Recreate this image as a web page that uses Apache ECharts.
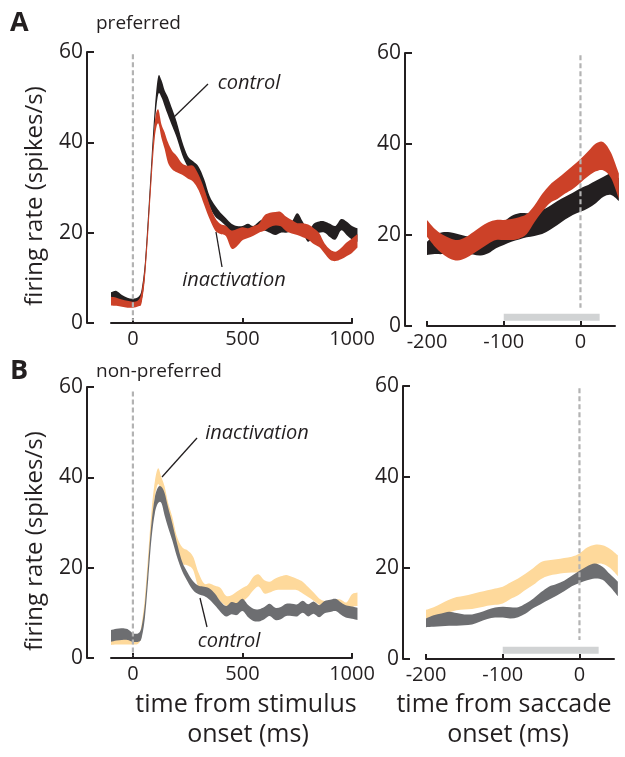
<!DOCTYPE html>
<html lang="en">
<head>
  <meta charset="UTF-8">
  <title>firing rate</title>
  <script src="https://cdn.jsdelivr.net/npm/echarts@6/dist/echarts.min.js"></script>
</head>
<body style="margin:0;background:#fff">
  <div id="main" style="width:625px;height:757px;"></div>
  <script type="text/javascript">
    // time bases (ms)
    var T_STIM = [-100, -75, -50, -25, 0, 25, 40, 55, 70, 85, 100, 115, 130, 145, 160, 180, 200,
      225, 250, 275, 300, 325, 350, 375, 400, 425, 450, 475, 500, 525, 550, 575, 600, 625, 650,
      675, 700, 725, 750, 775, 800, 825, 850, 875, 900, 925, 950, 975, 1000, 1025]
    var T_SACC = [-200, -190, -180, -170, -160, -150, -140, -130, -120, -110, -100, -90, -80,
      -70, -60, -50, -40, -30, -20, -10, 0, 10, 20, 30, 40, 50]

    // A, preferred, aligned on stimulus (upper / lower edge of band)
    var A_STIM_CTRL_HI = [6.8, 7.1, 6.2, 5.6, 5.4, 5.8, 7.5, 13.5, 24.5, 36.5, 47.5, 54.5, 53.8, 51.5, 50.0, 47.3, 44.5,
      40.2, 37.0, 35.8, 34.6, 31.9, 28.1, 26.0, 24.4, 23.2, 22.0, 21.5, 21.5, 22.0, 21.5, 22.5, 23.0, 22.5, 22.0,
      22.5, 22.5, 22.5, 24.3, 22.5, 20.5, 22.0, 22.5, 22.5, 22.0, 21.5, 23.0, 22.5, 21.5, 21.0]
    var A_STIM_CTRL_LO = [5.1, 5.3, 4.8, 4.4, 4.0, 4.4, 5.0, 10.5, 21.0, 33.0, 44.0, 50.5, 50.0, 48.0, 46.0, 43.5, 41.0,
      37.2, 34.6, 33.0, 31.5, 29.2, 25.8, 23.6, 22.6, 21.4, 19.5, 19.0, 19.5, 20.0, 20.0, 20.5, 20.5, 20.0, 19.5,
      20.0, 20.0, 20.5, 21.5, 20.0, 18.0, 19.5, 20.0, 20.0, 19.0, 18.5, 20.5, 19.5, 18.5, 18.0]
    var A_STIM_INACT_HI = [5.8, 5.6, 5.2, 4.9, 4.7, 5.1, 7.0, 13.0, 23.5, 35.0, 44.5, 47.3, 44.0, 42.2, 40.0, 38.0, 37.0,
      35.3, 34.8, 34.8, 32.8, 29.8, 26.2, 23.3, 21.9, 21.5, 20.5, 20.8, 21.2, 21.0, 21.5, 22.0, 23.8, 24.4, 24.6,
      24.6, 23.5, 22.8, 22.1, 22.1, 21.8, 21.0, 19.9, 17.6, 16.3, 15.8, 16.6, 17.8, 18.7, 19.7]
    var A_STIM_INACT_LO = [3.9, 3.8, 3.6, 3.4, 3.4, 3.7, 4.5, 10.0, 20.0, 31.5, 41.0, 44.2, 41.0, 38.5, 35.5, 34.0, 33.4,
      32.8, 32.0, 31.3, 29.4, 26.2, 23.0, 20.5, 19.7, 19.2, 16.5, 17.0, 18.3, 18.8, 19.3, 20.0, 20.4, 21.2, 21.6,
      21.4, 20.3, 19.8, 19.5, 19.0, 18.5, 17.5, 16.8, 15.4, 14.0, 13.7, 14.1, 14.8, 15.5, 16.7]

    // A, preferred, aligned on saccade
    var A_SACC_CTRL_HI = [18.5, 20.0, 20.6, 20.6, 20.2, 19.8, 19.5, 19.6, 20.4, 21.5, 22.9, 24.2, 24.8,
      24.8, 24.8, 25.5, 26.4, 27.5, 28.4, 29.3, 30.3, 31.0, 31.9, 32.8, 33.5, 32.5]
    var A_SACC_CTRL_LO = [15.6, 15.8, 15.8, 16.0, 16.1, 16.1, 15.7, 15.5, 16.0, 17.1, 17.8, 18.5, 19.0,
      19.5, 19.8, 20.2, 21.1, 22.2, 23.4, 24.4, 25.1, 25.9, 27.0, 28.4, 28.8, 27.5]
    var A_SACC_INACT_HI = [23.3, 21.4, 20.1, 19.3, 18.9, 19.5, 20.6, 21.8, 22.8, 23.3, 23.3, 23.5, 23.9,
      24.6, 26.5, 29.0, 31.0, 32.4, 33.8, 35.2, 36.7, 38.4, 40.1, 40.4, 38.0, 33.5]
    var A_SACC_INACT_LO = [19.6, 17.5, 15.9, 14.8, 14.4, 14.9, 15.9, 17.0, 18.1, 18.9, 18.9, 18.9, 19.2,
      20.2, 22.8, 25.1, 27.0, 27.9, 29.1, 30.1, 31.5, 32.9, 34.0, 34.2, 32.5, 28.0]

    // B, non-preferred, aligned on stimulus
    var B_STIM_CTRL_HI = [6.2, 6.5, 6.6, 6.4, 5.5, 5.5, 7.0, 12.0, 21.0, 30.0, 35.5, 37.8, 37.9, 36.5, 33.5, 29.8, 25.7,
      21.3, 18.9, 17.0, 16.0, 15.8, 15.4, 14.2, 12.5, 11.5, 12.4, 12.2, 13.1, 11.8, 10.9, 10.8, 11.3, 12.0, 11.1,
      11.3, 12.0, 12.0, 11.9, 12.7, 11.9, 12.5, 11.7, 12.6, 12.9, 13.1, 12.3, 11.6, 11.4, 11.1]
    var B_STIM_CTRL_LO = [3.6, 3.9, 4.0, 4.0, 3.6, 3.6, 4.5, 9.0, 17.5, 26.5, 32.0, 34.3, 34.3, 31.5, 29.0, 26.0, 22.6,
      19.2, 16.9, 15.0, 14.1, 13.7, 12.9, 11.6, 10.2, 9.2, 9.7, 9.5, 10.4, 9.1, 8.2, 8.1, 8.6, 9.3, 8.4,
      8.6, 9.3, 9.3, 9.2, 10.0, 9.2, 9.8, 9.0, 9.9, 10.2, 10.4, 9.6, 8.9, 8.7, 8.4]
    var B_STIM_INACT_HI = [4.6, 4.5, 4.3, 4.2, 4.0, 4.3, 7.5, 13.5, 23.0, 32.5, 39.0, 42.0, 40.0, 37.9, 34.5, 31.2, 27.0,
      24.5, 23.8, 22.4, 18.8, 16.5, 16.5, 16.0, 15.5, 13.8, 13.9, 14.7, 15.5, 16.2, 18.0, 18.5, 17.2, 16.9, 17.6,
      18.1, 18.4, 18.0, 17.5, 16.9, 15.7, 14.5, 13.2, 12.6, 12.7, 13.0, 12.9, 12.3, 14.1, 14.5]
    var B_STIM_INACT_LO = [2.9, 3.0, 3.0, 3.0, 3.0, 3.2, 5.0, 10.5, 19.5, 29.0, 35.5, 38.5, 36.5, 34.5, 31.0, 27.5, 24.0,
      21.0, 20.5, 19.5, 15.5, 14.5, 14.0, 13.5, 12.5, 11.5, 11.0, 11.5, 12.5, 13.5, 15.0, 15.8, 14.3, 14.5, 15.0,
      15.1, 15.1, 15.1, 15.0, 14.3, 13.5, 12.7, 11.8, 11.0, 10.8, 11.0, 10.8, 10.5, 11.3, 11.5]

    // B, non-preferred, aligned on saccade
    var B_SACC_CTRL_HI = [8.9, 9.6, 10.0, 10.4, 10.1, 9.8, 9.8, 10.2, 10.8, 11.3, 11.5, 11.4, 11.4,
      12.2, 13.3, 14.7, 15.9, 16.5, 17.2, 18.3, 19.4, 20.4, 21.0, 20.3, 18.6, 17.0]
    var B_SACC_CTRL_LO = [7.0, 7.1, 7.2, 7.3, 7.3, 7.4, 7.6, 8.2, 8.8, 9.1, 9.1, 8.9, 9.2,
      10.0, 11.2, 12.1, 13.0, 13.9, 14.9, 16.0, 16.7, 17.3, 17.7, 17.4, 15.8, 13.8]
    var B_SACC_INACT_HI = [10.8, 11.4, 12.2, 13.0, 13.6, 13.9, 14.3, 14.7, 15.1, 15.5, 15.9, 16.8, 17.7,
      18.8, 20.0, 21.3, 21.7, 21.9, 22.2, 22.5, 23.2, 24.5, 25.1, 25.0, 24.2, 22.8]
    var B_SACC_INACT_LO = [8.2, 8.8, 9.5, 10.2, 10.7, 10.9, 11.0, 11.3, 11.7, 11.9, 12.2, 13.2, 14.0,
      15.2, 16.3, 17.6, 18.3, 18.6, 18.9, 19.0, 19.2, 20.1, 20.8, 20.9, 20.0, 18.2]

    // axes
    var STIM_TICKS = [0, 500, 1000]
    var SACC_TICKS = [-200, -100, 0]
    var RATE_TICKS = [0, 20, 40, 60]
    var SACC_WINDOW = [-100, 25]

    var FONT = '"Open Sans", sans-serif'
    var INK = '#231f20'
    var BLACK = '#231f20', RED = '#cc4128', ORANGE = '#fed99b', GRAY = '#6d6e71'

    var myChart = echarts.init(document.getElementById('main'))

    // catmull-rom through points -> bezier path commands
    function curve(p) {
      var s = ''
      for (var i = 0; i < p.length - 1; i++) {
        var p0 = p[i - 1] || p[i], p1 = p[i], p2 = p[i + 1], p3 = p[i + 2] || p2
        s += 'C' + (p1[0] + (p2[0] - p0[0]) / 6) + ',' + (p1[1] + (p2[1] - p0[1]) / 6) + ',' +
          (p2[0] - (p3[0] - p1[0]) / 6) + ',' + (p2[1] - (p3[1] - p1[1]) / 6) + ',' + p2[0] + ',' + p2[1]
      }
      return s
    }

    function band(idx, ts, lo, hi, color) {
      return {
        type: 'custom',
        xAxisIndex: idx,
        yAxisIndex: idx,
        clip: false,
        silent: true,
        data: ts.map(function (t, i) { return [t, lo[i], hi[i]] }),
        encode: { x: 0, y: [1, 2] },
        renderItem: function (params, api) {
          if (params.dataIndex !== 0) return null
          var up = [], dn = []
          for (var i = 0; i < ts.length; i++) {
            up.push(api.coord([ts[i], hi[i]]))
            dn.push(api.coord([ts[i], lo[i]]))
          }
          dn.reverse()
          var d = 'M' + up[0][0] + ',' + up[0][1] + curve(up) +
            'L' + dn[0][0] + ',' + dn[0][1] + curve(dn) + 'Z'
          return { type: 'path', shape: { pathData: d }, style: { fill: color } }
        }
      }
    }

    function dash(idx, top, bottom) {
      return {
        type: 'line', xAxisIndex: idx, yAxisIndex: idx, silent: true, z: 5,
        data: [[0, top], [0, bottom]], symbol: 'none',
        lineStyle: { color: '#b3b3b3', width: 2.2, type: [5, 3] }
      }
    }

    function winBar(idx) {
      return {
        type: 'line', xAxisIndex: idx, yAxisIndex: idx, silent: true, z: 4,
        data: [[SACC_WINDOW[0], 1.9], [SACC_WINDOW[1], 1.9]], symbol: 'none',
        lineStyle: { color: '#d1d3d4', width: 7, cap: 'butt' }
      }
    }

    function xAxisOf(idx, min, max, ticks) {
      return {
        type: 'value', gridIndex: idx, min: min, max: max,
        axisLine: { onZero: false, lineStyle: { color: INK, width: 2 } },
        axisTick: { inside: true, length: 5, customValues: ticks, lineStyle: { color: INK, width: 2 } },
        axisLabel: {
          customValues: ticks, fontSize: 20, color: INK, margin: 6, fontFamily: FONT,
          formatter: function (v) { return String(v) }
        },
        splitLine: { show: false }
      }
    }

    function yAxisOf(idx, off) {
      return {
        type: 'value', gridIndex: idx, min: 0, max: 60, offset: off,
        axisLine: { show: true, onZero: false, lineStyle: { color: INK, width: 2 } },
        axisTick: { show: true, inside: true, length: 7, customValues: RATE_TICKS, lineStyle: { color: INK, width: 2 } },
        axisLabel: { customValues: RATE_TICKS, fontSize: 21, color: INK, margin: 4, fontFamily: FONT },
        splitLine: { show: false }
      }
    }

    function txt(x, y, s, font, align, rot) {
      return {
        type: 'text', x: x, y: y, rotation: rot || 0,
        style: { text: s, font: font, fill: INK, align: align || 'center', verticalAlign: 'middle' }
      }
    }

    function lead(x1, y1, x2, y2) {
      return { type: 'line', shape: { x1: x1, y1: y1, x2: x2, y2: y2 }, style: { stroke: INK, lineWidth: 1.3 } }
    }

    var option = {
      animation: false,
      textStyle: { fontFamily: FONT },
      grid: [
        { left: 111, top: 52, width: 241, height: 271 },
        { left: 427, top: 53, width: 188, height: 273 },
        { left: 111, top: 387, width: 241, height: 271 },
        { left: 426, top: 386, width: 188, height: 273 }
      ],
      xAxis: [
        xAxisOf(0, -100, 1000, STIM_TICKS),
        xAxisOf(1, -200, 45, SACC_TICKS),
        xAxisOf(2, -100, 1000, STIM_TICKS),
        xAxisOf(3, -200, 45, SACC_TICKS)
      ],
      yAxis: [yAxisOf(0, 24), yAxisOf(1, 22), yAxisOf(2, 24), yAxisOf(3, 23)],
      series: [
        band(0, T_STIM, A_STIM_CTRL_LO, A_STIM_CTRL_HI, BLACK),
        band(0, T_STIM, A_STIM_INACT_LO, A_STIM_INACT_HI, RED),
        dash(0, 59.5, 0.5),
        band(1, T_SACC, A_SACC_CTRL_LO, A_SACC_CTRL_HI, BLACK),
        band(1, T_SACC, A_SACC_INACT_LO, A_SACC_INACT_HI, RED),
        dash(1, 59.5, 4),
        winBar(1),
        band(2, T_STIM, B_STIM_INACT_LO, B_STIM_INACT_HI, ORANGE),
        band(2, T_STIM, B_STIM_CTRL_LO, B_STIM_CTRL_HI, GRAY),
        dash(2, 59, 0.5),
        band(3, T_SACC, B_SACC_INACT_LO, B_SACC_INACT_HI, ORANGE),
        band(3, T_SACC, B_SACC_CTRL_LO, B_SACC_CTRL_HI, GRAY),
        dash(3, 59.5, 4.2),
        winBar(3)
      ],
      graphic: [
        txt(10, 23, 'A', 'bold 27px ' + FONT, 'left'),
        txt(10, 371, 'B', 'bold 27px ' + FONT, 'left'),
        txt(96, 24, 'preferred', '19px ' + FONT, 'left'),
        txt(96, 372, 'non-preferred', '19px ' + FONT, 'left'),
        txt(35, 196, 'firing rate (spikes/s)', '24px ' + FONT, 'center', Math.PI / 2),
        txt(35, 541, 'firing rate (spikes/s)', '24px ' + FONT, 'center', Math.PI / 2),
        txt(246, 705, 'time from stimulus', '25px ' + FONT),
        txt(248, 735, 'onset (ms)', '25px ' + FONT),
        txt(504, 705, 'time from saccade', '25px ' + FONT),
        txt(508, 735, 'onset (ms)', '25px ' + FONT),
        txt(249, 83, 'control', 'italic 20px ' + FONT),
        txt(234, 280, 'inactivation', 'italic 20px ' + FONT),
        txt(257, 433, 'inactivation', 'italic 20px ' + FONT),
        txt(229, 641, 'control', 'italic 20px ' + FONT),
        lead(208, 84, 173, 118),
        lead(222, 267, 216, 232),
        lead(197, 438, 162, 477),
        lead(207, 627, 200, 598)
      ]
    }

    myChart.setOption(option)
  </script>
</body>
</html>
